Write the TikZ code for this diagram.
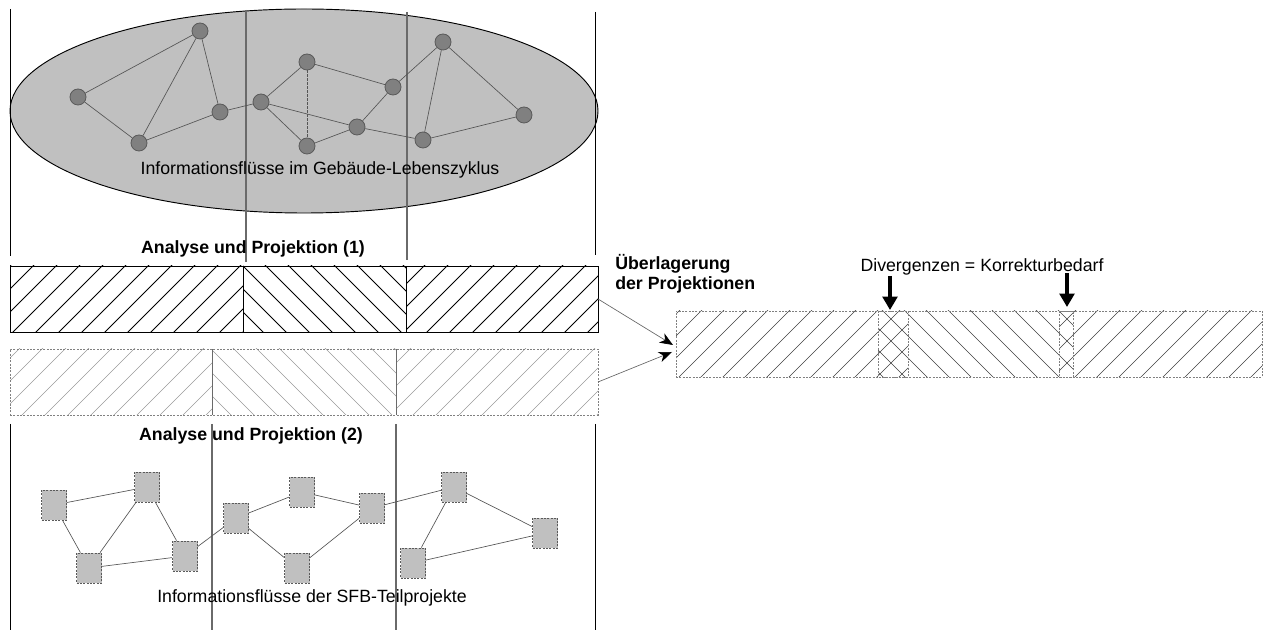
\documentclass[tikz,border=0pt]{standalone}
\usepackage{fontspec}
\setmainfont{Liberation Sans}
\usetikzlibrary{arrows.meta}
\definecolor{ellfill}{HTML}{C0C0C0}
\definecolor{nodefill}{HTML}{808080}
\definecolor{nodeedge}{HTML}{5A5A5A}
\definecolor{vgray}{HTML}{6A6A6A}
\definecolor{dashgray}{HTML}{808080}
\definecolor{hatchgray}{HTML}{9A9A9A}
\definecolor{linkgray}{HTML}{555555}
\newcommand{\hatchSL}[6]{\begin{scope}\clip (#1,#2) rectangle (#3,#4);\foreach \k in {0,...,95}{\draw[#6] ({\k*#5},0) -- ({\k*#5-700},700);}\end{scope}}
\newcommand{\hatchBS}[6]{\begin{scope}\clip (#1,#2) rectangle (#3,#4);\foreach \k in {-32,...,62}{\draw[#6] ({\k*#5},0) -- ({\k*#5+700},700);}\end{scope}}
\tikzset{
  circnode/.style={circle, fill=nodefill, draw=nodeedge, line width=0.6pt, minimum size=12pt, inner sep=0pt},
  sqnode/.style={rectangle, fill=ellfill, draw=nodeedge, dash pattern=on 1.5pt off 1pt, line width=0.6pt, minimum width=18.75pt, minimum height=22.5pt, inner sep=0pt},
  link/.style={draw=linkgray, line width=0.5pt},
  lbl/.style={font=\fontsize{13.3}{16}\selectfont, inner sep=0pt},
  blbl/.style={font=\fontsize{13.3}{15}\selectfont\bfseries, inner sep=0pt},
  blackline/.style={draw=black, line width=0.7pt},
  grayline/.style={draw=vgray, line width=0.8pt},
  bar/.style={rectangle, inner sep=0pt, outer sep=0pt, minimum width=441pt, minimum height=49.5pt},
  dashbox/.style={draw=dashgray, dash pattern=on 1.5pt off 1pt, line width=0.6pt},
  feed/.style={draw=black!60, line width=0.5pt, -{Stealth[length=10pt,width=8pt,inset=3pt,color=black]}},
  downarrow/.style={draw=black, line width=2.4pt, -{Triangle[length=10pt,width=11pt]}},
  h1/.style={draw=black, line width=0.55pt},
  h2/.style={draw=hatchgray, line width=0.5pt},
  h3/.style={draw=black!75, line width=0.45pt}
}
\begin{document}
\begin{tikzpicture}[x=0.75pt,y=-0.75pt]
\useasboundingbox (0,0) rectangle (1263,630);
% ---------- top: ellipse and network ----------
\draw[fill=ellfill, draw=black, line width=0.7pt] (304,111) ellipse [x radius=294, y radius=102];
\draw[blackline] (10,9) -- (10,256);
\draw[grayline] (246,10) -- (246,262);
\draw[grayline] (407,12) -- (407,260);
\draw[blackline] (595,12) -- (595,255);
\node[lbl] (t1) at (320,170) {Informationsflüsse im Gebäude-Lebenszyklus};
\node[circnode] (c1) at (200,31) {};
\node[circnode] (c2) at (78,97) {};
\node[circnode] (c3) at (139,143) {};
\node[circnode] (c4) at (220,112) {};
\node[circnode] (c5) at (261,102) {};
\node[circnode] (c6) at (307,62) {};
\node[circnode] (c7) at (307,146) {};
\node[circnode] (c8) at (393,87) {};
\node[circnode] (c9) at (357,127) {};
\node[circnode] (c10) at (443,42) {};
\node[circnode] (c11) at (524,115) {};
\node[circnode] (c12) at (423,140) {};
\draw[link] (c2) -- (c1);
\draw[link] (c2) -- (c3);
\draw[link] (c3) -- (c1);
\draw[link] (c1) -- (c4);
\draw[link] (c3) -- (c4);
\draw[link] (c4) -- (c5);
\draw[link] (c5) -- (c6);
\draw[link] (c5) -- (c7);
\draw[link] (c5) -- (c9);
\draw[link, dash pattern=on 2pt off 1pt] (c6) -- (c7);
\draw[link] (c6) -- (c8);
\draw[link] (c7) -- (c9);
\draw[link] (c9) -- (c8);
\draw[link] (c9) -- (c12);
\draw[link] (c8) -- (c10);
\draw[link] (c10) -- (c12);
\draw[link] (c10) -- (c11);
\draw[link] (c12) -- (c11);
\node[blbl] (a1) at (253,249) {Analyse und Projektion (1)};
% ---------- bar 1 ----------
\hatchSL{10}{266}{243}{332}{23}{h1}
\hatchBS{243}{266}{406}{332}{23}{h1}
\hatchSL{406}{266}{598}{332}{23}{h1}
\node[bar, draw=black, line width=0.7pt] (bar1) at (304,299) {};
\draw[blackline] (243,266) -- (243,332);
\draw[blackline] (406,266) -- (406,332);
% ---------- bar 2 ----------
\hatchSL{10}{349}{212}{415}{23}{h2}
\hatchBS{212}{349}{396}{415}{23}{h2}
\hatchSL{396}{349}{598}{415}{23}{h2}
\node[bar, dashbox] (bar2) at (304,382) {};
\draw[grayline, line width=0.7pt] (212,349) -- (212,415);
\draw[grayline, line width=0.7pt] (396,349) -- (396,415);
% ---------- right bar ----------
\hatchSL{676}{311}{908}{377}{22}{h3}
\hatchBS{878}{311}{1073}{377}{22}{h3}
\hatchSL{1059}{311}{1262}{377}{22}{h3}
\node[bar, minimum width=439.5pt, dashbox] (bar3) at (969,344) {};
\draw[dashbox] (878,311) rectangle (908,377);
\draw[dashbox] (1059,311) rectangle (1073,377);
\node[blbl, align=left, anchor=west] (ueb) at (615,274) {Überlagerung\\der Projektionen};
\coordinate (in1) at (673,345);
\coordinate (in2) at (672,352);
\draw[feed] (bar1.east) -- (in1);
\draw[feed] (bar2.east) -- (in2);
\node[lbl] (div) at (982,267) {Divergenzen = Korrekturbedarf};
\coordinate (d1a) at (890,276);
\coordinate (d1b) at (890,310);
\coordinate (d2a) at (1067,273);
\coordinate (d2b) at (1067,307);
\draw[downarrow] (d1a) -- (d1b);
\draw[downarrow] (d2a) -- (d2b);
% ---------- bottom ----------
\draw[blackline] (10,424) -- (10,630);
\draw[grayline] (212,424) -- (212,630);
\draw[grayline] (396,424) -- (396,630);
\draw[blackline] (595,424) -- (595,630);
\node[blbl] (a2) at (251,436) {Analyse und Projektion (2)};
\node[sqnode] (s1) at (54,505) {};
\node[sqnode] (s2) at (147,487) {};
\node[sqnode] (s3) at (89,568) {};
\node[sqnode] (s4) at (185,556) {};
\node[sqnode] (s5) at (236,518) {};
\node[sqnode] (s6) at (302,492) {};
\node[sqnode] (s7) at (297,568) {};
\node[sqnode] (s8) at (372,508) {};
\node[sqnode] (s9) at (454,487) {};
\node[sqnode] (s10) at (413,563) {};
\node[sqnode] (s11) at (545,533) {};
\draw[link] (s1) -- (s2);
\draw[link] (s1) -- (s3);
\draw[link] (s3) -- (s2);
\draw[link] (s2) -- (s4);
\draw[link] (s3) -- (s4);
\draw[link] (s4) -- (s5);
\draw[link] (s5) -- (s6);
\draw[link] (s5) -- (s7);
\draw[link] (s6) -- (s8);
\draw[link] (s7) -- (s8);
\draw[link] (s8) -- (s9);
\draw[link] (s9) -- (s10);
\draw[link] (s9) -- (s11);
\draw[link] (s10) -- (s11);
\node[lbl] (t2) at (312,598) {Informationsflüsse der SFB-Teilprojekte};
\end{tikzpicture}
\end{document}
